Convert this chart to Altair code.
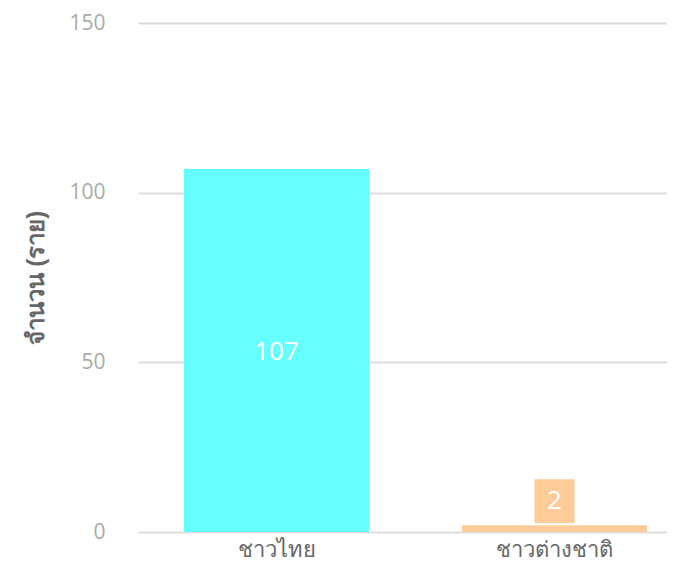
import altair as alt
import pandas as pd

categories = ["ชาวไทย", "ชาวต่างชาติ"]
values = [107, 2]
colors = ["#66FFFF", "#FFCC99"]
y_ticks = [0, 50, 100, 150]

df = pd.DataFrame({"cat": categories, "value": values, "color": colors})

x_enc = alt.X(
    "cat:N",
    sort=categories,
    scale=alt.Scale(range=[0, 555], paddingInner=0.3345, paddingOuter=0.1655),
    axis=alt.Axis(
        title=None, labelAngle=0, labelFontSize=22, labelColor="#666666",
        labelFont="Noto Sans", labelPadding=7, ticks=False,
        domain=False,
    ),
)
y_scale = alt.Scale(domain=[0, 150], nice=False)

bars = alt.Chart(df).mark_bar().encode(
    x=x_enc,
    y=alt.Y(
        "value:Q", scale=y_scale,
        axis=alt.Axis(
            values=y_ticks, title="จำนวน (ราย)", titleFontSize=24,
            titleColor="#666666", titleFontWeight="bold", titlePadding=20,
            labelFontSize=21, labelColor="#aaaaaa", labelFont="Open Sans",
            labelPadding=33, ticks=False, domain=False,
            grid=True, gridColor="#dddddd", gridWidth=2,
        ),
    ),
    color=alt.Color("color:N", scale=None),
)

inside = alt.Chart(df).transform_filter("datum.value >= 20").transform_calculate(
    mid="datum.value / 2"
).mark_text(color="white", fontSize=26, font="Open Sans", baseline="middle", dy=2).encode(
    x=alt.X("cat:N", sort=categories),
    y=alt.Y("mid:Q", scale=y_scale),
    text="value:Q",
)

box = alt.Chart(df).transform_filter("datum.value < 20").mark_point(
    shape="M-0.91,-1H0.91V1H-0.91Z", size=1936, filled=True, opacity=1,
    color="#FFCC99", yOffset=-24,
).encode(
    x=alt.X("cat:N", sort=categories),
    y=alt.Y("value:Q", scale=y_scale),
)

outside = alt.Chart(df).transform_filter("datum.value < 20").mark_text(
    color="white", fontSize=26, font="Open Sans", baseline="middle", dy=-24,
).encode(
    x=alt.X("cat:N", sort=categories),
    y=alt.Y("value:Q", scale=y_scale),
    text="value:Q",
)

chart = alt.layer(bars, inside, box, outside).properties(
    width=529, height=509,
    autosize=alt.AutoSizeParams(type="none"),
    padding={"left": 130, "top": 15, "right": 0, "bottom": 36},
).configure_view(stroke=None)

chart.save("out.html", embed_options={"renderer": "svg", "actions": False})
